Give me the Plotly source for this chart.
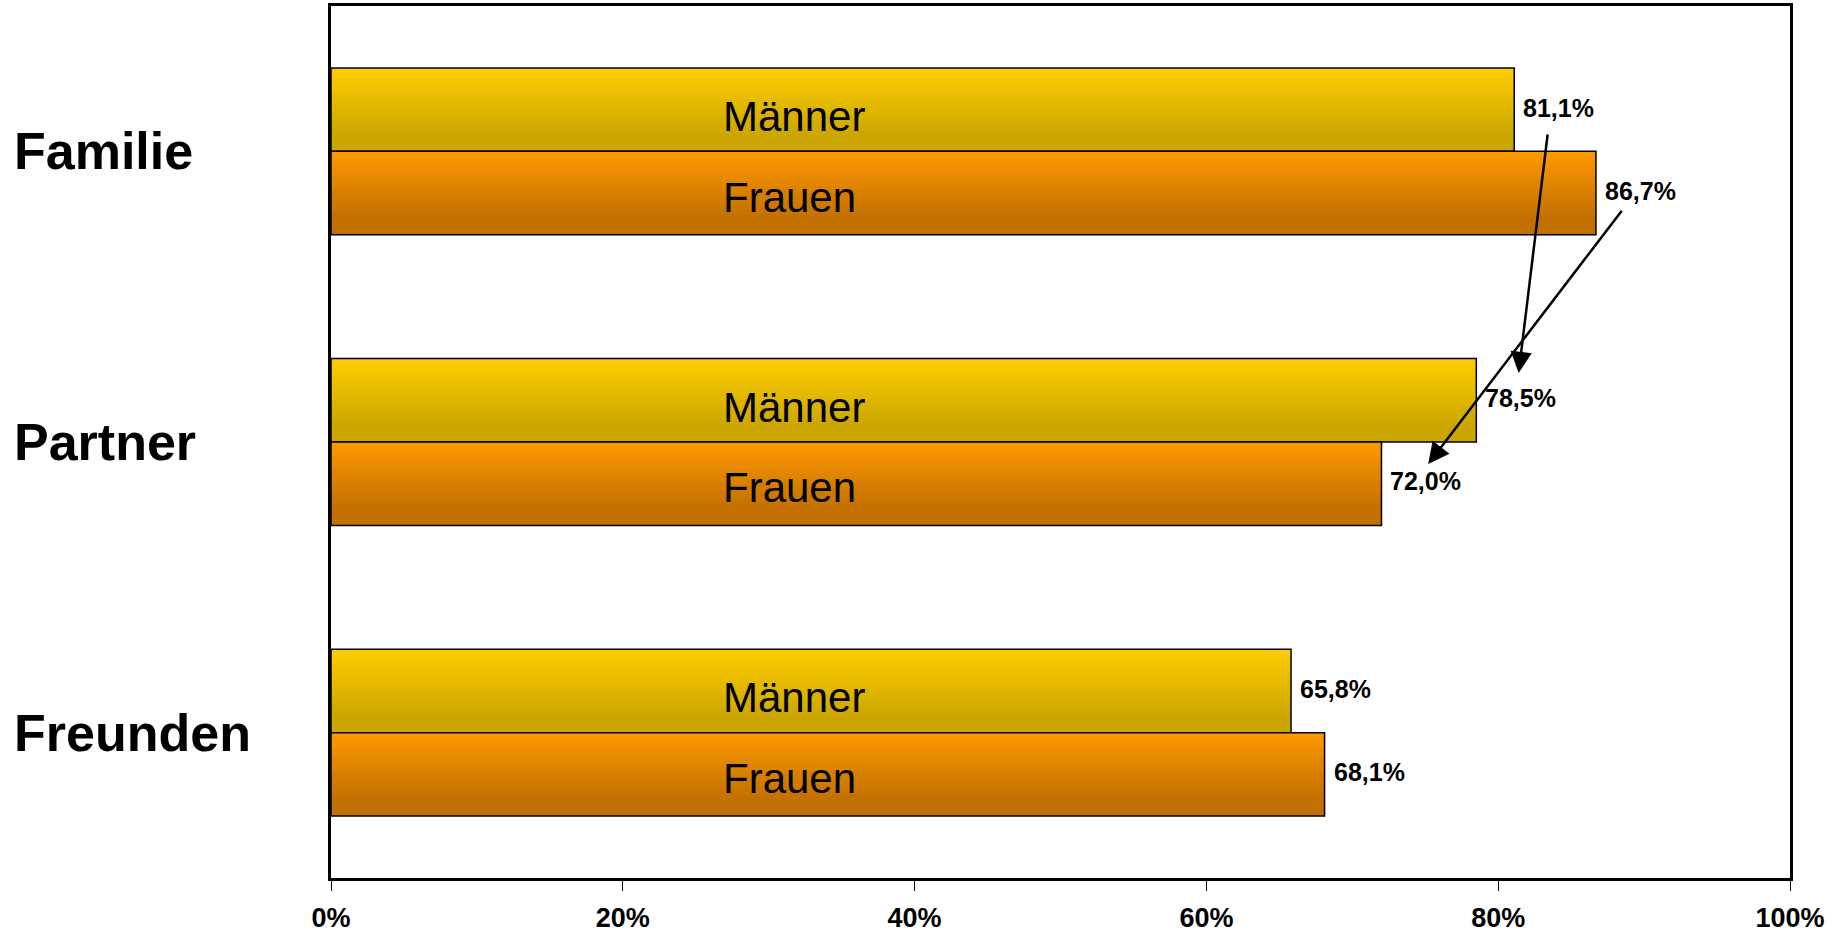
import plotly.graph_objects as go

# ---- data ----
categories = ["Familie", "Partner", "Freunden"]
maenner = [81.1, 78.5, 65.8]
frauen = [86.7, 72.0, 68.1]
maenner_labels = ["81,1%", "78,5%", "65,8%"]
frauen_labels = ["86,7%", "72,0%", "68,1%"]
series_names = ["Männer", "Frauen"]
tick_vals = [0, 20, 40, 60, 80, 100]
tick_text = ["0%", "20%", "40%", "60%", "80%", "100%"]

FONT = "Liberation Sans, Arial, sans-serif"
BAR_W = 0.287
N = 24

def lerp(c1, c2, t):
    return "rgb(%d,%d,%d)" % tuple(round(a + (b - a) * t) for a, b in zip(c1, c2))

styles = {
    "Männer": ((255, 206, 0), (204, 166, 0)),
    "Frauen": ((255, 153, 0), (194, 112, 0)),
}

fig = go.Figure()
series = [("Männer", maenner, -BAR_W), ("Frauen", frauen, 0.0)]
for name, vals, start in series:
    top, bot = styles[name]
    sw = BAR_W / N
    for i in range(N):
        t = min(1.0, (i + 0.5) / (N * 0.8))
        off = start + i * sw
        w = min(sw * 1.7, start + BAR_W - off)
        fig.add_trace(go.Bar(
            x=vals, y=categories, orientation="h",
            offset=off, width=w,
            marker=dict(color=lerp(top, bot, t), line=dict(width=0)),
            showlegend=False, hoverinfo="skip"))
    fig.add_trace(go.Bar(
        x=vals, y=categories, orientation="h", name=name,
        offset=start, width=BAR_W,
        marker=dict(color="rgba(0,0,0,0)", line=dict(color="black", width=1.5)),
        showlegend=False))

annotations = []
# category labels
for c in categories:
    annotations.append(dict(x=-0.2186, xref="paper", y=c, yref="y", text="<b>%s</b>" % c,
                            showarrow=False, xanchor="left", yanchor="middle",
                            font=dict(family=FONT, size=52, color="black")))
# series labels inside bars
for k, c in enumerate(categories):
    annotations.append(dict(x=26.7, y=k - 0.12, xref="x", yref="y", text=series_names[0],
                            showarrow=False, xanchor="left", yanchor="middle",
                            font=dict(family=FONT, size=42, color="black")))
    annotations.append(dict(x=26.7, y=k + 0.158, xref="x", yref="y", text=series_names[1],
                            showarrow=False, xanchor="left", yanchor="middle",
                            font=dict(family=FONT, size=42, color="black")))
# value labels
for k, c in enumerate(categories):
    annotations.append(dict(x=maenner[k], y=k - 0.15, xref="x", yref="y",
                            text="<b>%s</b>" % maenner_labels[k], showarrow=False,
                            xanchor="left", yanchor="middle", xshift=7,
                            font=dict(family=FONT, size=25, color="black")))
    annotations.append(dict(x=frauen[k], y=k + 0.135, xref="x", yref="y",
                            text="<b>%s</b>" % frauen_labels[k], showarrow=False,
                            xanchor="left", yanchor="middle", xshift=7,
                            font=dict(family=FONT, size=25, color="black")))
# arrows (tail x, tail y, head x, head y)
arrow_geo = [
    (83.4, -0.063, 81.4, 0.763),
    (88.55, 0.199, 75.2, 1.076),
]
for tx, ty, hx, hy in arrow_geo:
    annotations.append(dict(x=hx, y=hy, ax=tx, ay=ty, xref="x", yref="y",
                            axref="x", ayref="y", text="", showarrow=True,
                            arrowhead=2, arrowsize=1.7, arrowwidth=2.5,
                            arrowcolor="black", standoff=0))

fig.update_layout(
    width=1841, height=932,
    margin=dict(l=331, r=51, t=6, b=54, pad=0, autoexpand=False),
    paper_bgcolor="white", plot_bgcolor="white",
    barmode="overlay",
    showlegend=False,
    annotations=annotations,
    xaxis=dict(range=[0, 100], tickvals=tick_vals, ticktext=tick_text,
               showgrid=False, zeroline=False, showline=True, linecolor="black",
               linewidth=3, mirror=True, ticks="outside", ticklen=10, tickwidth=1,
               tickcolor="black", ticklabelstandoff=4, automargin=False,
               tickfont=dict(family=FONT, size=27, color="black", weight="bold")),
    yaxis=dict(autorange="reversed", showticklabels=False, showgrid=False,
               zeroline=False, showline=True, linecolor="black", linewidth=3,
               mirror=True, ticks="", automargin=False),
)

fig.write_html("out.html", config={"displayModeBar": False},
               post_script="document.body.style.margin='0';document.body.style.overflow='hidden';")
